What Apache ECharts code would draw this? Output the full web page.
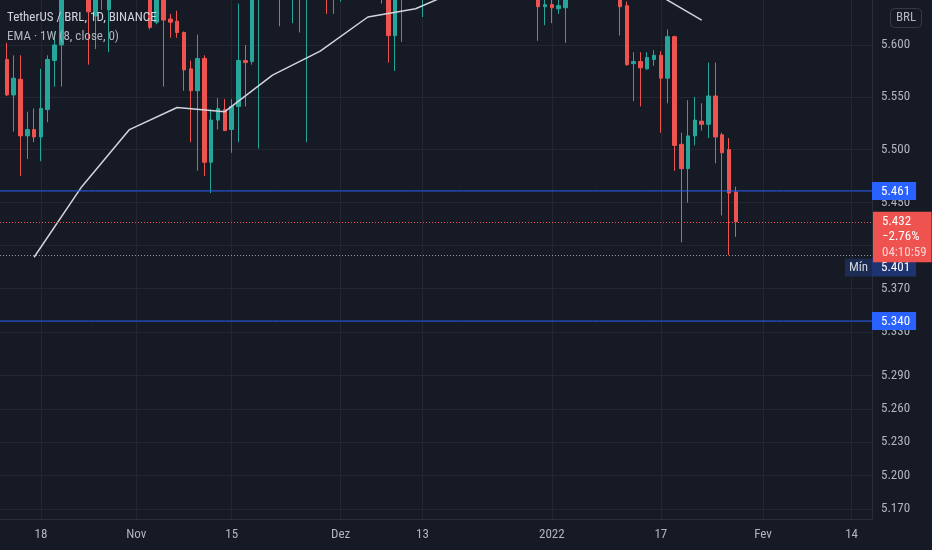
<!DOCTYPE html>
<html><head><meta charset="utf-8">
<script src="https://cdn.jsdelivr.net/npm/echarts@6/dist/echarts.min.js"></script>
<style>html,body{margin:0;padding:0;background:#161a25;}#c{width:932px;height:550px;}</style>
</head><body><div id="c"></div>
<script>
// ---- data ----
const startDate = '2021-10-12';
const endDate = '2022-02-17';
const candleStart = '2021-10-13';
// [open, close, low, high] daily, from 2021-10-13 to 2022-01-28
const candles = [
[5.586,5.552,5.551,5.602],[5.552,5.568,5.517,5.590],[5.567,5.513,5.475,5.590],[5.513,5.519,5.491,5.536],
[5.519,5.512,5.507,5.539],[5.512,5.539,5.489,5.577],[5.538,5.586,5.526,5.590],[5.585,5.600,5.560,5.612],
[5.600,5.662,5.560,5.671],[5.662,5.680,5.650,5.694],[5.680,5.671,5.656,5.688],[5.671,5.690,5.660,5.702],
[5.690,5.632,5.581,5.699],[5.628,5.661,5.596,5.670],[5.661,5.672,5.634,5.684],[5.634,5.668,5.593,5.680],
[5.668,5.680,5.655,5.692],[5.680,5.671,5.660,5.690],[5.671,5.683,5.661,5.694],
[5.683,5.690,5.665,5.705],[5.690,5.679,5.664,5.701],[5.679,5.617,5.615,5.688],[5.622,5.664,5.620,5.672],
[5.664,5.624,5.560,5.670],[5.625,5.622,5.607,5.630],[5.623,5.612,5.607,5.633],[5.612,5.576,5.556,5.613],
[5.577,5.556,5.507,5.585],[5.556,5.587,5.480,5.610],[5.587,5.488,5.475,5.590],[5.488,5.528,5.459,5.538],
[5.528,5.539,5.519,5.549],[5.538,5.518,5.518,5.548],[5.519,5.541,5.497,5.548],[5.541,5.585,5.507,5.640],
[5.585,5.583,5.541,5.600],[5.584,5.652,5.581,5.668],[5.652,5.684,5.501,5.693],[5.684,5.692,5.668,5.704],
[5.692,5.673,5.656,5.700],[5.673,5.655,5.618,5.688],[5.655,5.666,5.648,5.679],[5.666,5.677,5.621,5.690],
[5.677,5.660,5.612,5.686],[5.660,5.691,5.507,5.708],[5.691,5.686,5.670,5.700],[5.686,5.695,5.672,5.703],
[5.695,5.681,5.630,5.712],[5.681,5.693,5.630,5.718],
[5.693,5.702,5.642,5.721],[5.702,5.711,5.683,5.724],[5.711,5.690,5.680,5.719],[5.690,5.700,5.662,5.712],
[5.700,5.692,5.680,5.709],[5.692,5.685,5.661,5.703],[5.685,5.670,5.640,5.698],[5.670,5.609,5.583,5.681],
[5.609,5.661,5.575,5.672],[5.661,5.676,5.603,5.690],[5.676,5.681,5.665,5.692],[5.681,5.674,5.660,5.689],
[5.674,5.690,5.627,5.702],[5.690,5.701,5.672,5.712],[5.701,5.712,5.681,5.731],[5.712,5.703,5.684,5.722],
[5.703,5.721,5.690,5.733],[5.721,5.710,5.701,5.728],[5.710,5.722,5.702,5.731],[5.722,5.739,5.711,5.752],
[5.739,5.718,5.702,5.748],[5.718,5.701,5.684,5.727],[5.701,5.683,5.662,5.709],[5.683,5.692,5.671,5.701],
[5.692,5.684,5.672,5.699],[5.684,5.693,5.673,5.702],[5.693,5.672,5.661,5.704],[5.672,5.688,5.660,5.699],
[5.688,5.679,5.666,5.708],[5.679,5.637,5.604,5.690],[5.637,5.639,5.619,5.652],
[5.639,5.636,5.621,5.650],[5.635,5.638,5.630,5.648],[5.636,5.662,5.602,5.673],[5.662,5.681,5.651,5.692],
[5.681,5.699,5.670,5.712],[5.699,5.708,5.688,5.721],[5.708,5.690,5.681,5.718],[5.690,5.682,5.666,5.700],
[5.682,5.691,5.671,5.703],[5.691,5.679,5.662,5.700],[5.679,5.637,5.609,5.688],[5.638,5.581,5.580,5.642],
[5.582,5.584,5.546,5.593],[5.584,5.578,5.541,5.593],[5.577,5.588,5.576,5.593],[5.586,5.590,5.580,5.595],
[5.590,5.568,5.516,5.594],[5.568,5.608,5.544,5.615],[5.608,5.504,5.480,5.609],[5.505,5.482,5.413,5.516],
[5.482,5.513,5.450,5.547],[5.513,5.528,5.504,5.550],[5.527,5.524,5.518,5.544],[5.524,5.551,5.511,5.583],
[5.551,5.512,5.487,5.583],[5.514,5.497,5.438,5.516],[5.500,5.459,5.401,5.511],[5.460,5.432,5.418,5.465]
];
const emaDates = ['2021-10-17','2021-10-24','2021-10-31','2021-11-07','2021-11-14','2021-11-21','2021-11-28',
  '2021-12-05','2021-12-12','2021-12-19','2021-12-26','2022-01-02','2022-01-09','2022-01-16','2022-01-23'];
const emaValues = [5.399,5.465,5.519,5.540,5.536,5.571,5.594,5.627,5.635,5.655,5.664,5.667,5.661,5.651,5.624];
const yTicks = [5.600,5.550,5.500,5.450,5.410,5.370,5.330,5.290,5.260,5.230,5.200,5.170];
const xTickDates = ['2021-10-18','2021-11-01','2021-11-15','2021-12-01','2021-12-13','2022-01-01','2022-01-17','2022-02-01','2022-02-14'];
const xTickLabels = ['18','Nov','15','Dez','13','2022','17','Fev','14'];
const resistance = 5.461, support = 5.340, lastPrice = 5.432, minPrice = 5.401;
const changeText = '\u22122.76%', countdown = '04:10:59';
const viewMin = 5.1611, viewMax = 5.6435;

// ---- build ----
const FONT = "'Liberation Sans Narrow','Roboto Condensed',Roboto,sans-serif";
const L = Math.log;
const categories = [];
for (let t = Date.parse(startDate + 'T00:00:00Z'); t <= Date.parse(endDate + 'T00:00:00Z'); t += 86400000) {
  categories.push(new Date(t).toISOString().slice(0, 10));
}
const cIdx = categories.indexOf(candleStart);
const candleData = categories.map((d, i) => {
  const r = candles[i - cIdx];
  return r ? r.map(L) : ['-', '-', '-', '-'];
});
const emaData = categories.map(d => {
  const k = emaDates.indexOf(d);
  return k >= 0 ? L(emaValues[k]) : '-';
});
const isTick = (i, v) => xTickDates.indexOf(v) >= 0;

const BLUE = '#2962ff';
const levelSeries = v => ({
  type: 'line', data: categories.map(() => L(v)), showSymbol: false, symbol: 'none', silent: true, z: 4,
  lineStyle: {color: BLUE, width: 1, type: 'solid'}, itemStyle: {color: BLUE},
  markLine: {
    symbol: ['none', 'none'], silent: true, animation: false, precision: 10,
    lineStyle: {color: 'rgba(0,0,0,0)', width: 1},
    data: [{yAxis: L(v), label: {show: true, position: 'end', distance: 0, formatter: '{t|' + v.toFixed(3) + '}',
      backgroundColor: BLUE, padding: [3, 6, 2, 9], fontFamily: FONT,
      rich: {t: {color: '#ffffff', fontSize: 13, lineHeight: 13, fontFamily: FONT}}}}]
  }
});

const chart = echarts.init(document.getElementById('c'), null, {renderer: 'canvas'});
chart.setOption({
  backgroundColor: '#161a25',
  animation: false,
  title: {
    text: 'TetherUS / BRL, 1D, BINANCE', subtext: 'EMA \u00b7 1W (8, close, 0)',
    left: 7, top: 11, padding: 0, itemGap: 5,
    textStyle: {color: '#d1d4dc', fontSize: 13, fontWeight: 'normal', fontFamily: FONT, lineHeight: 14},
    subtextStyle: {color: '#b2b5be', fontSize: 13, fontFamily: FONT, lineHeight: 14}
  },
  graphic: [
    {type: 'rect', x: 890.5, y: 8.5, shape: {width: 31, height: 19, r: 4}, style: {fill: 'rgba(0,0,0,0)', stroke: '#363a45', lineWidth: 1}, z: 10},
    {type: 'text', x: 906, y: 18, style: {text: 'BRL', fill: '#b2b5be', font: '13px ' + FONT, textAlign: 'center', textVerticalAlign: 'middle'}, z: 10}
  ],
  grid: {left: -1.85, right: 60, top: 0, bottom: 31},
  xAxis: {
    type: 'category', data: categories, boundaryGap: false,
    axisLine: {show: true, lineStyle: {color: '#2a2e39'}},
    axisTick: {show: false},
    axisLabel: {interval: isTick, formatter: v => xTickLabels[xTickDates.indexOf(v)], color: '#b2b5be', fontSize: 13, margin: 9, fontFamily: FONT},
    splitLine: {show: true, interval: isTick, lineStyle: {color: '#232733'}}
  },
  yAxis: {
    type: 'value', position: 'right', min: L(viewMin), max: L(viewMax),
    axisLine: {show: true, lineStyle: {color: '#2a2e39'}},
    axisTick: {show: false, customValues: yTicks.map(L)},
    axisLabel: {customValues: yTicks.map(L), formatter: v => Math.exp(v).toFixed(3), color: '#b2b5be', fontSize: 13, margin: 9, fontFamily: FONT},
    splitLine: {show: true, lineStyle: {color: '#232733'}}
  },
  series: [
    {
      type: 'candlestick', data: candleData, barWidth: 4, clip: true,
      itemStyle: {color: '#26a69a', color0: '#ef5350', borderColor: '#26a69a', borderColor0: '#ef5350', borderWidth: 1}
    },
    {
      type: 'line', data: emaData, connectNulls: true, showSymbol: false, symbol: 'none', clip: true,
      lineStyle: {color: '#d1d4dc', width: 1.5}, itemStyle: {color: '#d1d4dc'}, z: 3
    },
    levelSeries(resistance),
    levelSeries(support),
    {
      type: 'line', data: [], itemStyle: {color: '#9598a1'}, z: 4,
      markLine: {
        symbol: ['none', 'none'], silent: true, animation: false, precision: 10,
        lineStyle: {color: '#9598a1', width: 1, type: [1, 2]},
        data: [
          {yAxis: L(minPrice),
           label: {show: true, position: 'insideEndBottom', distance: [27, 6], align: 'left', verticalAlign: 'top',
             formatter: '{m|M\u00edn}{v|' + minPrice.toFixed(3) + '}', fontFamily: FONT,
             rich: {
               m: {backgroundColor: '#1c2b51', color: '#d1d4dc', fontSize: 13, lineHeight: 13, padding: [3, 3, 2, 3], width: 21, align: 'center', fontFamily: FONT},
               v: {backgroundColor: '#1e3470', color: '#ffffff', fontSize: 13, lineHeight: 13, padding: [3, 6, 2, 9], fontFamily: FONT}
             }}}
        ]
      }
    },
    {
      type: 'line', data: [], itemStyle: {color: '#ef5350'}, z: 5,
      markLine: {
        symbol: ['none', 'none'], silent: true, animation: false, precision: 10,
        lineStyle: {color: '#ef5350', width: 1, type: [1, 2]},
        data: [
          {yAxis: L(lastPrice),
           label: {show: true, position: 'insideEndBottom', distance: [-1, -10], align: 'left', verticalAlign: 'top',
             backgroundColor: '#ef5350', padding: [2, 5, 2, 9], fontFamily: FONT,
             formatter: '{a|' + lastPrice.toFixed(3) + '}\n{b|' + changeText + '}\n{c|' + countdown + '}',
             rich: {
               a: {color: '#ffffff', fontSize: 13, lineHeight: 15.5, fontFamily: FONT},
               b: {color: '#ffffff', fontSize: 13, lineHeight: 15.5, fontFamily: FONT},
               c: {color: '#fbd5d5', fontSize: 13, lineHeight: 15.5, fontFamily: FONT}
             }}}
        ]
      }
    }
  ]
});
</script></body></html>
